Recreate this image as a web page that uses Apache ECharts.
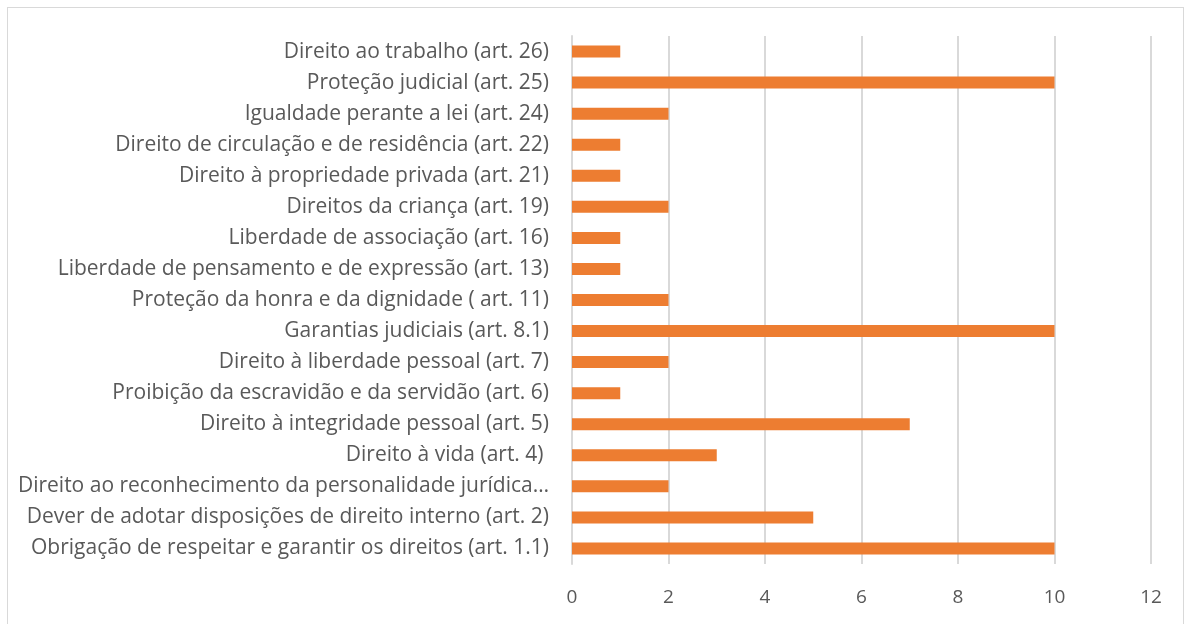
<!DOCTYPE html>
<html>
<head>
<meta charset="utf-8">
<script src="https://cdn.jsdelivr.net/npm/echarts@6/dist/echarts.min.js"></script>
<style>
  html, body { margin: 0; padding: 0; background: #fff; overflow: hidden; }
  #frame { position: absolute; left: 7px; top: 7px; width: 1175px; height: 640px; border: 1px solid #D9D9D9; }
  #chart { position: absolute; left: 0; top: 0; width: 1194px; height: 624px; }
</style>
</head>
<body>
<div id="frame"></div>
<div id="chart"></div>
<script>
// categories listed bottom to top (category axis starts at the bottom)
const categories = [
  "Obrigação de respeitar e garantir os direitos (art. 1.1)",
  "Dever de adotar disposições de direito interno (art. 2)",
  "Direito ao reconhecimento da personalidade jurídica…",
  "Direito à vida (art. 4) ",
  "Direito à integridade pessoal (art. 5)",
  "Proibição da escravidão e da servidão (art. 6)",
  "Direito à liberdade pessoal (art. 7)",
  "Garantias judiciais (art. 8.1)",
  "Proteção da honra e da dignidade ( art. 11)",
  "Liberdade de pensamento e de expressão (art. 13)",
  "Liberdade de associação (art. 16)",
  "Direitos da criança (art. 19)",
  "Direito à propriedade privada (art. 21)",
  "Direito de circulação e de residência (art. 22)",
  "Igualdade perante a lei (art. 24)",
  "Proteção judicial (art. 25)",
  "Direito ao trabalho (art. 26)"
];
const values = [10, 5, 2, 3, 7, 1, 2, 10, 2, 1, 1, 2, 1, 1, 2, 10, 1];

const chart = echarts.init(document.getElementById("chart"));
chart.setOption({
  animation: false,
  textStyle: { fontFamily: "Open Sans" },
  grid: { left: 572, right: 43, top: 36, bottom: 60, containLabel: false },
  xAxis: {
    type: "value",
    min: 0,
    max: 12,
    interval: 2,
    axisLine: { show: false },
    axisTick: { show: false },
    axisLabel: { color: "#595959", fontSize: 19, margin: 24 },
    splitLine: { lineStyle: { color: "#D9D9D9", width: 2 } }
  },
  yAxis: {
    type: "category",
    data: categories,
    axisLine: { lineStyle: { color: "#D9D9D9", width: 2 } },
    axisTick: { show: false },
    axisLabel: { color: "#595959", fontSize: 21, margin: 23 }
  },
  series: [{
    type: "bar",
    data: values,
    barWidth: 12,
    itemStyle: { color: "#ED7D31" }
  }]
});
</script>
</body>
</html>
